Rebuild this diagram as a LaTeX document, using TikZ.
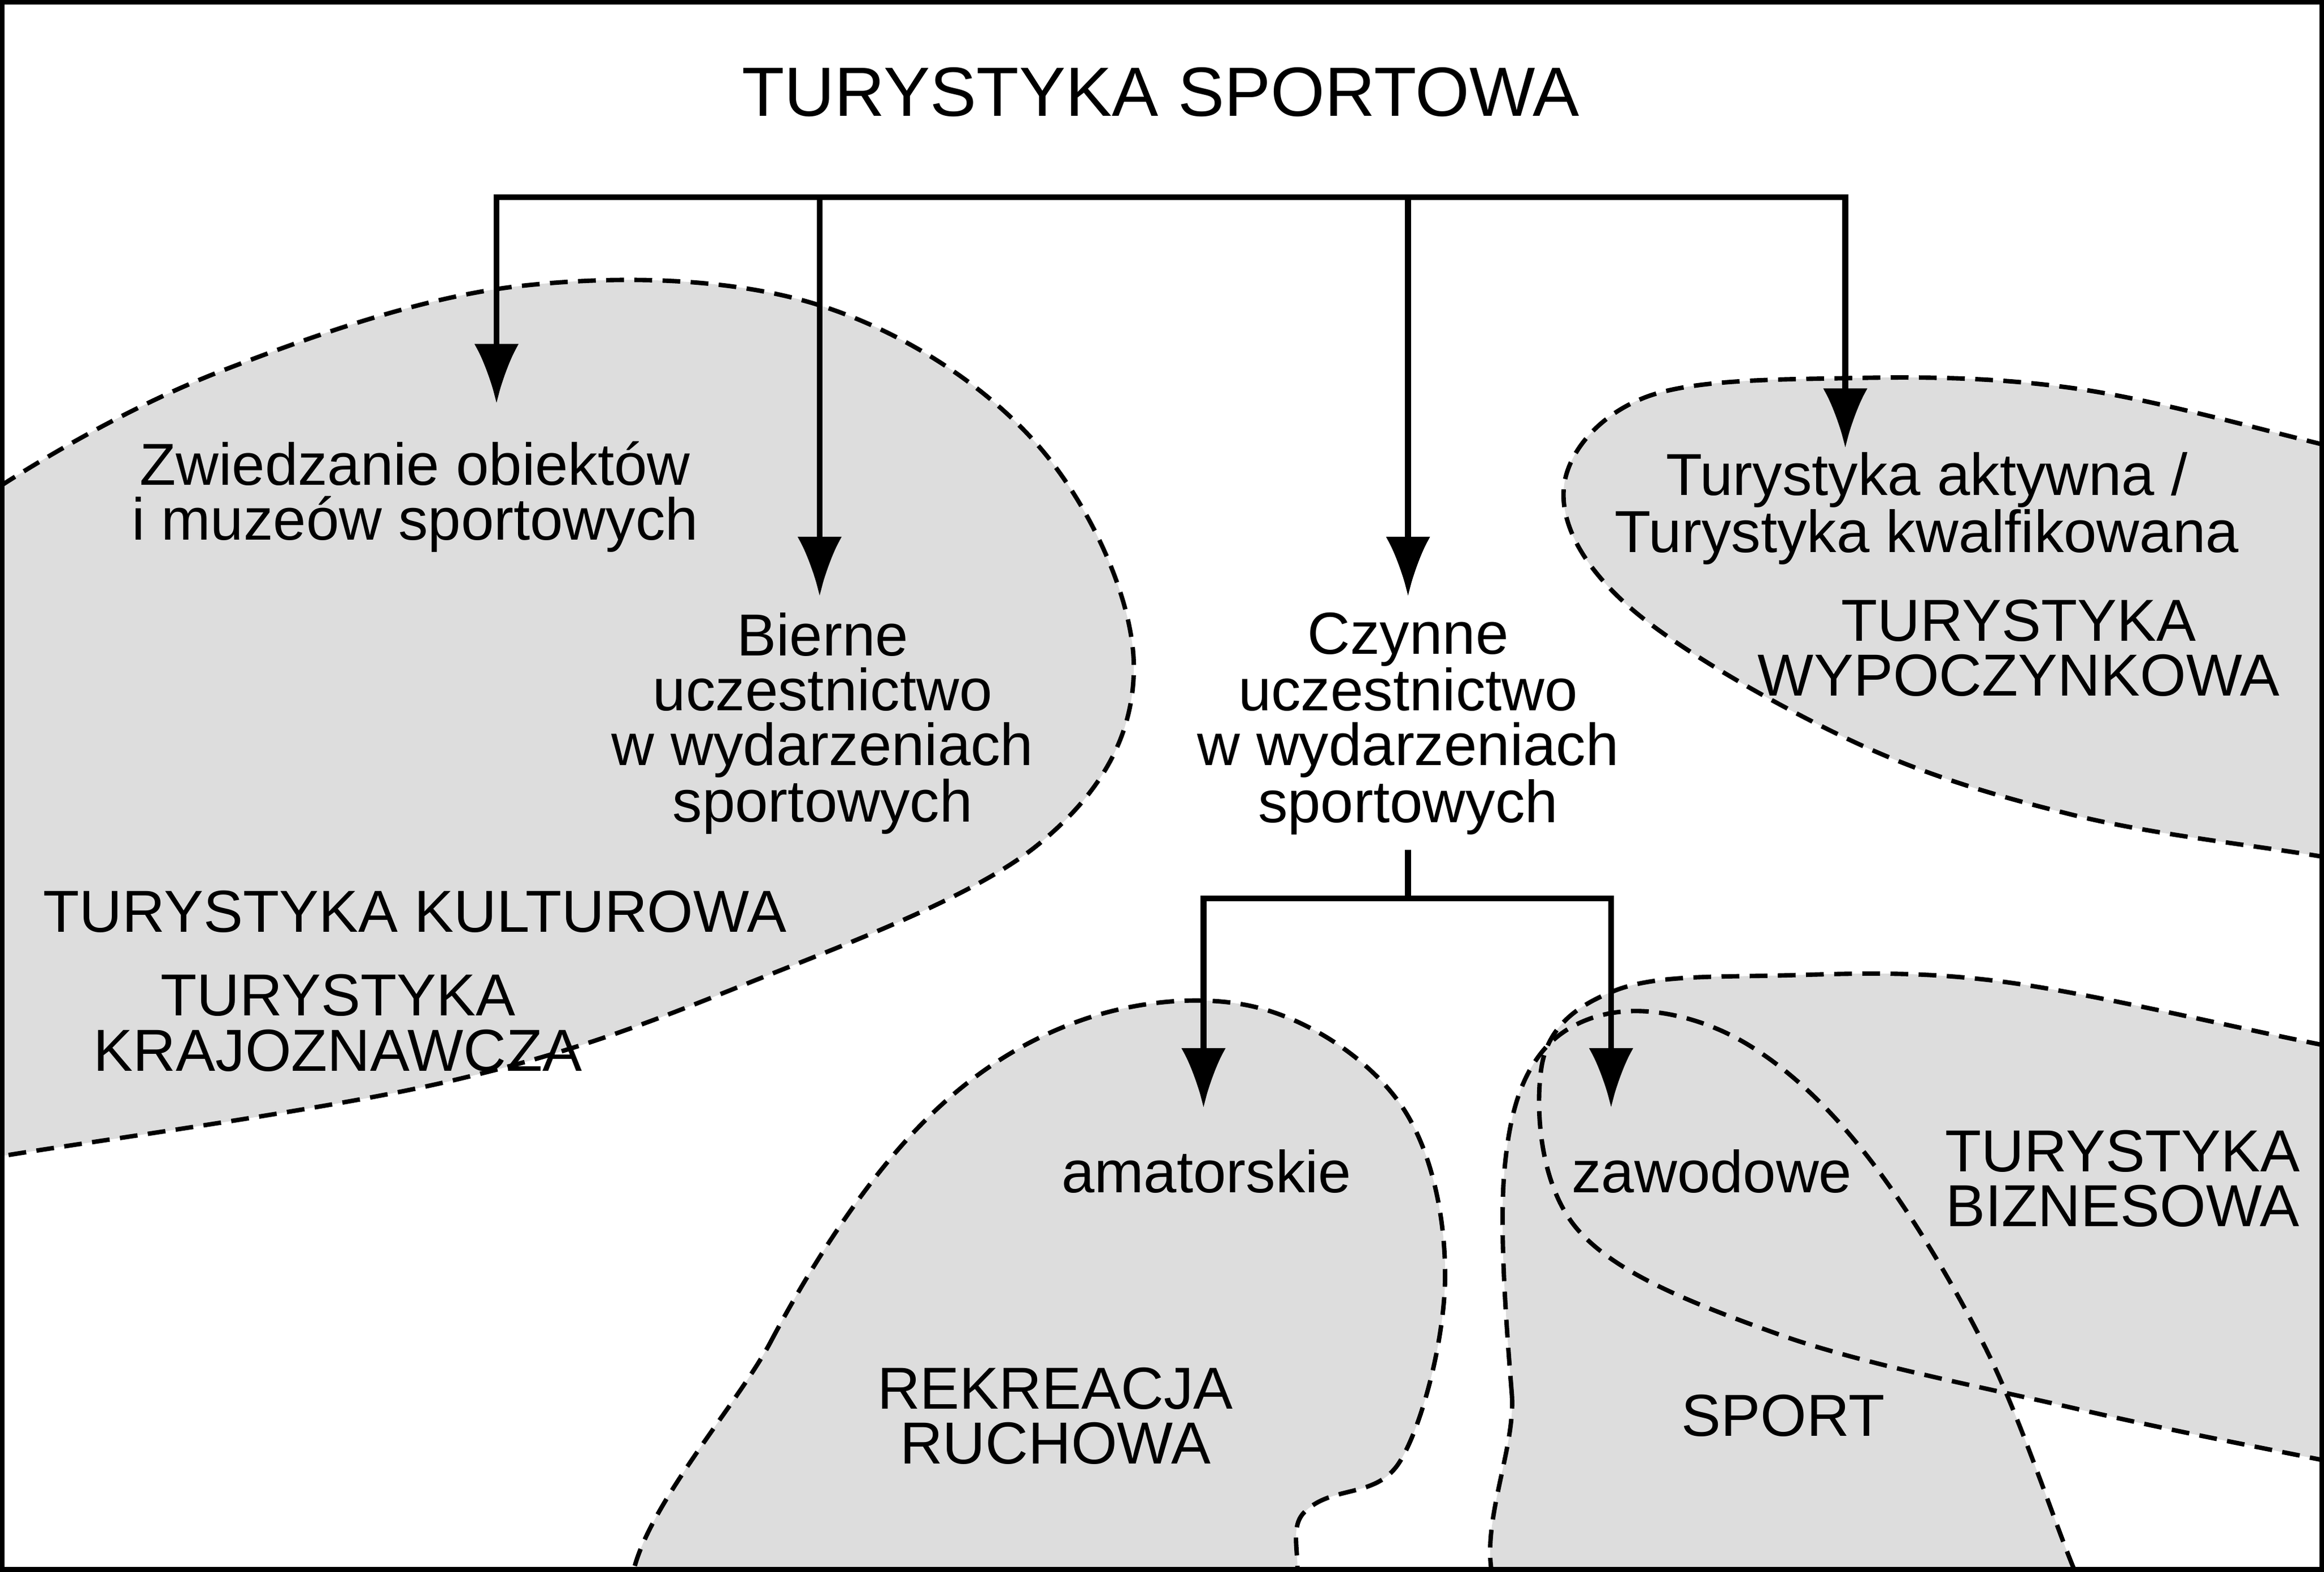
\documentclass[tikz,border=0pt]{standalone}
\usepackage{fontspec}
\setmainfont{Liberation Sans}
\usetikzlibrary{arrows.meta}
\definecolor{blobgray}{RGB}{221,221,221}
\tikzset{
  blobfill/.style={fill=blobgray},
  blobline/.style={draw=black,line width=3pt,dash pattern=on 12pt off 7pt},
  lbl/.style={inner sep=0pt,align=center,font=\fontsize{40}{37}\selectfont},
  arr/.style={line width=4pt,-{Latex[length=40pt,width=30pt]}},
  lin/.style={line width=4pt}
}
\begin{document}
\begin{tikzpicture}[x=1pt,y=-1pt]
\useasboundingbox (0,0) rectangle (1568,1060);

%blobs
\def\blobL{plot[smooth cycle,tension=0.6] coordinates {(-60,385) (0,328) (150,250) (350,193) (550,205) (700,300) (765,450) (700,570) (500,665) (300,730) (0,780) (-60,790)}}
\def\blobW{plot[smooth cycle,tension=0.6] coordinates {(1700,335) (1568,300) (1400,262) (1250,255) (1110,268) (1055,330) (1100,410) (1250,500) (1400,550) (1568,578) (1700,600)}}
\def\blobR{plot[smooth cycle,tension=0.6] coordinates {(440,1100) (520,905) (620,760) (730,688) (850,680) (945,745) (975,860) (945,985) (880,1020) (830,1100)}}
\def\blobB{plot[smooth cycle,tension=0.6] coordinates {(1700,730) (1568,705) (1350,662) (1200,658) (1090,668) (1040,720) (1065,830) (1200,900) (1400,950) (1568,985) (1700,1010)}}
\def\blobS{plot[smooth cycle,tension=0.6] coordinates {(1040,1100) (1020,940) (1015,790) (1040,710) (1100,682) (1180,705) (1260,780) (1340,910) (1400,1060) (1420,1100)}}
\begin{scope}
\clip (0,0) rectangle (1568,1060);
\foreach \b in {\blobL,\blobW,\blobR,\blobB,\blobS}
  \path[blobfill] \b;
\foreach \b in {\blobL,\blobW,\blobR,\blobB,\blobS}
  \draw[blobline] \b;
\end{scope}
\draw[line width=6pt] (0,0) rectangle (1568,1060);

%texts
\node[lbl,font=\fontsize{47}{50}\selectfont] (title) at (783,62) {TURYSTYKA SPORTOWA};
\node[lbl] (zwiedz) at (280,335) {Zwiedzanie obiektów\\i muzeów sportowych};
\node[lbl] (bierne) at (555,488) {Bierne\\uczestnictwo\\w wydarzeniach\\sportowych};
\node[lbl] (czynne) at (950,488) {Czynne\\uczestnictwo\\w wydarzeniach\\sportowych};
\node[lbl] (aktywna) at (1300,343) {Turystyka aktywna /\\Turystyka kwalfikowana};
\node[lbl] (wypocz) at (1362,437) {TURYSTYKA\\WYPOCZYNKOWA};
\node[lbl] (kultur) at (280,615) {TURYSTYKA KULTUROWA};
\node[lbl] (krajozn) at (228,690) {TURYSTYKA\\KRAJOZNAWCZA};
\node[lbl] (amator) at (814,790) {amatorskie};
\node[lbl] (zawod) at (1155,790) {zawodowe};
\node[lbl] (biznes) at (1432,795) {TURYSTYKA\\BIZNESOWA};
\node[lbl] (rekre) at (712,955) {REKREACJA\\RUCHOWA};
\node[lbl] (sport) at (1203,955) {SPORT};

%connectors
\coordinate (t1) at (335,133);
\coordinate (t2) at (553,133);
\coordinate (t3) at (950,133);
\coordinate (t4) at (1245,133);
\coordinate (c0) at (950,606);
\coordinate (c1) at (812,606);
\coordinate (c2) at (1087,606);
\draw[lin] ([xshift=-2pt]t1) -- ([xshift=2pt]t4);
\draw[arr] (t1) -- (335,272);
\draw[arr] (t2) -- (553,402);
\draw[arr] (t3) -- (950,402);
\draw[arr] (t4) -- (1245,302);
\draw[lin] (czynne.south -| c0) ++(0,10) -- (c0);
\draw[lin] ([xshift=-2pt]c1) -- ([xshift=2pt]c2);
\draw[arr] (c1) -- (812,747);
\draw[arr] (c2) -- (1087,747);
\end{tikzpicture}
\end{document}
